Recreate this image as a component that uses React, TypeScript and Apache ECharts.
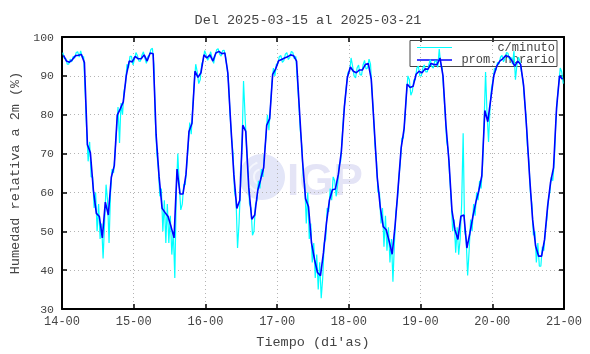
import { useEffect, useRef } from 'react';
import * as echarts from 'echarts';

// Tick labels (x axis, one per day boundary)
const dayLabels = ['14-00', '15-00', '16-00', '17-00', '18-00', '19-00', '20-00', '21-00'];

// Hourly mean relative humidity (%), one value per hour, per day
const hourly14 = [95.3, 93.8, 93.5, 94.2, 95.2, 95.3, 95.5, 93.4, 72.3, 70.2, 60.6, 54.6, 53.8, 48.3, 57.5, 54.2, 63.9, 66.9, 79.9, 81.5, 83.3, 90, 93.8, 93.6];
const hourly15 = [95, 94.4, 94.4, 95.4, 93.8, 95.9, 95.7, 74.8, 64, 55.9, 54.8, 53.8, 51.2, 48.3, 66, 59.6, 59.6, 64.7, 75.7, 77.8, 91.2, 89.6, 90.8, 95.4];
const hourly16 = [94.6, 95.4, 93.8, 95.9, 96.3, 95.7, 95.9, 90.8, 77.3, 64.7, 55.9, 58, 77.3, 75.7, 61.3, 53.1, 54.2, 60.5, 63.4, 66.4, 77.3, 79, 90.4, 91.8];
const hourly17 = [93.9, 94.2, 94.6, 94.9, 95.4, 95.2, 93.8, 80.7, 68.1, 58.4, 56.3, 47, 42.8, 39.4, 38.6, 44.5, 52.1, 58, 60.7, 60.9, 64.7, 70.6, 82, 89.6];
const hourly18 = [92.3, 91.2, 90.8, 91.5, 91.5, 92.9, 93.2, 89.1, 76.5, 63.9, 56.3, 51.2, 50.4, 47.4, 44.1, 51.7, 61.3, 71.4, 76.5, 87.9, 87, 87.3, 90.4, 91.2];
const hourly19 = [90.8, 91.8, 91.7, 93.2, 92.9, 92.9, 94.6, 90, 77.3, 68.1, 55.4, 50.4, 47.9, 53.9, 54.2, 45.7, 49.5, 53.8, 57.5, 60.5, 64.3, 81.1, 78.2, 84.1];
const hourly20 = [90, 92.5, 93.8, 94.4, 95.2, 95, 94, 92.5, 93.8, 92.9, 87.4, 76.5, 63.9, 53, 46.2, 43.6, 43.6, 47.9, 56.3, 62.6, 66.4, 81.6, 90, 89.1];

// Per-minute readings, sampled twice per hour (first and second half of each hour)
const minA14 = [96, 94.5, 93, 93.6, 94.6, 96.2, 96.4, 95, 76, 73, 64, 60, 57, 52, 52, 58, 60, 65, 76, 72.7, 80, 88, 92, 95];
const minB14 = [94.5, 93, 94.3, 95, 96, 94.8, 94.8, 86, 68, 64, 56, 50, 48, 43, 62, 47, 66, 70, 82, 83, 86, 93, 95, 92.8];
const minA15 = [94.2, 95.2, 93.8, 96.2, 93.2, 95.3, 97.1, 78, 66, 61, 58, 57, 54, 50, 60, 62, 57, 62, 72, 75, 88, 91, 89, 94];
const minB15 = [96, 93.8, 95.3, 94.5, 95, 96.8, 93, 70, 59, 50, 47, 47, 44, 38, 70, 55.5, 62, 67, 78, 82, 93, 88, 93, 96.5];
const minA16 = [95.4, 94.8, 94.5, 95.2, 97, 95.1, 96.6, 92, 80, 70, 58, 52, 72, 80, 65, 56, 50, 58, 61, 64, 74, 76, 88, 90];
const minB16 = [94, 96.2, 93.2, 96.7, 95.6, 96.5, 94.8, 88, 74, 60, 45.7, 62, 88.7, 72, 57, 49, 57, 63, 66, 70, 80, 82, 92, 93];
const minA17 = [93.2, 95.2, 93.9, 96, 94.8, 96, 95, 83, 72, 62, 60, 52, 47, 44, 42, 38, 48, 55, 58, 63, 62, 68, 80, 88];
const minB17 = [95, 93.5, 95.6, 94.2, 96.3, 94.4, 89, 76, 64, 52, 48, 42, 38, 35, 32.8, 47, 56, 61, 64, 59, 67, 74, 84, 91];
const minA18 = [91, 92.5, 89.5, 92.8, 90.2, 94, 92, 93, 80, 68, 60, 56, 54, 51, 48, 47, 58, 68, 74, 85, 89, 86, 89, 92.5];
const minB18 = [94.6, 90, 92, 90.3, 92.8, 91.8, 94.3, 86, 72, 60, 52, 46, 45, 42, 37, 55, 64, 74, 79, 90, 85, 89, 92, 90];
const minA19 = [90, 92.8, 91, 94.2, 92, 93.8, 96.9, 92, 80, 71, 58, 53, 51, 48, 75.2, 48, 45, 50, 54, 58, 61, 78, 80, 82];
const minB19 = [92, 91, 92.8, 92.4, 93.8, 92.2, 93, 86, 73, 64, 50, 44.5, 44, 57, 50, 38.6, 53, 57, 60, 63, 67, 91, 73, 87];
const minA20 = [89, 91.5, 93, 95.3, 94.5, 95.8, 94.8, 96.4, 92.8, 93.8, 89, 80, 68, 57, 50, 47, 41, 45, 53, 60, 63, 78, 88, 91];
const minB20 = [92, 93.5, 94.8, 93.6, 96, 94.2, 93, 89, 94.8, 91, 84, 72, 60, 49, 42, 41, 46, 50, 58, 64, 68, 84, 92, 88];

const titleText = 'Del 2025-03-15 al 2025-03-21';
const xName = "Tiempo (di'as)";
const yName = 'Humedad relativa a 2m (%)';
const legendNames = ['c/minuto', 'prom. horario'];

const mono = "'Liberation Mono', 'DejaVu Sans Mono', monospace";
const textColor = '#444';

export default function App() {
  const ref = useRef<HTMLDivElement>(null);

  useEffect(() => {
    if (!ref.current) return;
    const chart = echarts.init(ref.current, null, { renderer: 'svg' });

    const hourly = [...hourly14, ...hourly15, ...hourly16, ...hourly17, ...hourly18, ...hourly19, ...hourly20];
    const minA = [...minA14, ...minA15, ...minA16, ...minA17, ...minA18, ...minA19, ...minA20];
    const minB = [...minB14, ...minB15, ...minB16, ...minB17, ...minB18, ...minB19, ...minB20];

    const hourlyData = hourly.map((v, i) => [i + 0.5, v]);
    const minuteData: number[][] = [];
    for (let i = 0; i < minA.length; i++) {
      minuteData.push([i + 0.25, minA[i]]);
      minuteData.push([i + 0.75, minB[i]]);
    }

    const axisLine = { show: true, onZero: false, lineStyle: { color: '#000', width: 2 } };
    const axisTick = { show: true, inside: true, length: 5, lineStyle: { color: '#000', width: 1.5 } };
    const split = { show: true, lineStyle: { color: '#b4b4b4', type: [1, 3], width: 1 } };

    chart.setOption({
      animation: false,
      textStyle: { fontFamily: mono },
      grid: { left: 53, right: 26, top: 37, bottom: 41, containLabel: false },
      xAxis: [
        {
          type: 'value', min: 0, max: 168, interval: 24, position: 'bottom',
          axisLine, axisTick,
          axisLabel: {
            formatter: (v: number) => dayLabels[Math.round(v / 24)] ?? '',
            color: textColor, fontSize: 12, fontFamily: mono, margin: 7,
          },
          splitLine: split,
          name: xName, nameLocation: 'middle', nameGap: 26,
          nameTextStyle: { color: textColor, fontSize: 13.5, fontFamily: mono },
        },
        {
          type: 'value', min: 0, max: 168, interval: 24, position: 'top',
          axisLine, axisTick, axisLabel: { show: false }, splitLine: { show: false },
        },
      ],
      yAxis: [
        {
          type: 'value', min: 30, max: 100, interval: 10, position: 'left',
          axisLine, axisTick,
          axisLabel: { color: textColor, fontSize: 11.5, fontFamily: mono, margin: 8 },
          splitLine: split,
          name: yName, nameLocation: 'middle', nameGap: 40, nameRotate: 90,
          nameTextStyle: { color: textColor, fontSize: 13.5, fontFamily: mono },
        },
        {
          type: 'value', min: 30, max: 100, interval: 10, position: 'right',
          axisLine, axisTick, axisLabel: { show: false }, splitLine: { show: false },
        },
      ],
      graphic: [
        // watermark
        { type: 'circle', z: -1, silent: true, shape: { cx: 262, cy: 177, r: 23 }, style: { fill: '#e3e6f8' } },
        { type: 'arc', z: -1, silent: true, shape: { cx: 262, cy: 177, r: 15, startAngle: Math.PI * 0.6, endAngle: Math.PI * 1.4 }, style: { stroke: '#f4f6fd', lineWidth: 2, fill: 'none' } },
        { type: 'arc', z: -1, silent: true, shape: { cx: 262, cy: 177, r: 8, startAngle: Math.PI * 0.6, endAngle: Math.PI * 1.4 }, style: { stroke: '#f4f6fd', lineWidth: 2, fill: 'none' } },
        {
          type: 'text', z: -1, silent: true,
          style: { text: 'IGP', x: 287, y: 179, fontSize: 44, fontWeight: 'bold', fontFamily: "'Liberation Sans', Arial, sans-serif", fill: '#e4e4f6', verticalAlign: 'middle', align: 'left' },
        },
        // title
        {
          type: 'text', silent: true,
          style: { text: titleText, x: 308, y: 20, fontSize: 13.5, fontFamily: mono, fill: textColor, align: 'center', verticalAlign: 'middle' },
        },
        // legend
        { type: 'rect', z: 1, silent: true, shape: { x: 410, y: 40.5, width: 147, height: 26 }, style: { fill: 'none', stroke: '#444', lineWidth: 1 } },
        { type: 'line', z: 1, silent: true, shape: { x1: 417, y1: 47.5, x2: 452, y2: 47.5 }, style: { stroke: '#00ffff', lineWidth: 1.2 } },
        { type: 'line', z: 1, silent: true, shape: { x1: 417, y1: 60, x2: 452, y2: 60 }, style: { stroke: '#0000ff', lineWidth: 1.6 } },
        { type: 'text', z: 1, silent: true, style: { text: legendNames[0], x: 555, y: 47.5, fontSize: 12, fontFamily: mono, fill: textColor, align: 'right', verticalAlign: 'middle' } },
        { type: 'text', z: 1, silent: true, style: { text: legendNames[1], x: 555, y: 60, fontSize: 12, fontFamily: mono, fill: textColor, align: 'right', verticalAlign: 'middle' } },
      ],
      series: [
        {
          name: legendNames[0], type: 'line', data: minuteData, symbol: 'none', showSymbol: false,
          xAxisIndex: 0, yAxisIndex: 0, z: 2, silent: true,
          lineStyle: { color: '#00ffff', width: 1.2 },
        },
        {
          name: legendNames[1], type: 'line', data: hourlyData, symbol: 'none', showSymbol: false,
          xAxisIndex: 0, yAxisIndex: 0, z: 3, silent: true,
          lineStyle: { color: '#0000ff', width: 1.6 },
        },
      ],
    });

    return () => chart.dispose();
  }, []);

  return <div ref={ref} style={{ position: 'fixed', left: 0, top: 0, width: 590, height: 354 }} />;
}
